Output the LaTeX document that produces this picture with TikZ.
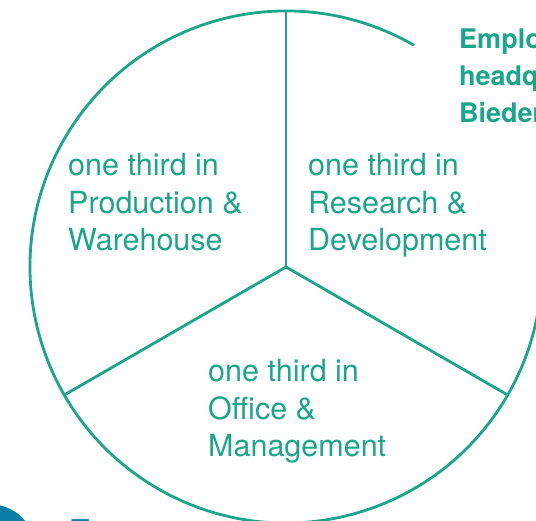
\documentclass[tikz,border=0pt]{standalone}
\usepackage{fontspec}
\setmainfont{TeX Gyre Heros}
\definecolor{leaf}{HTML}{1AA68A}
\definecolor{ocean}{HTML}{0A7EA6}
\begin{document}
\begin{tikzpicture}[x=1pt,y=1pt,
  wedge/.style={draw=leaf,line width=2.8pt},
  share/.style={anchor=base west,align=left,text=leaf,inner sep=0pt,
    font=\fontsize{30.5}{37.5}\selectfont},
  heading/.style={anchor=base west,align=left,text=leaf,inner sep=0pt,
    font=\bfseries\fontsize{27}{37}\selectfont}]
\useasboundingbox (0,0) rectangle (536,521);
\clip (0,0) rectangle (536,521);

% pie of three equal sectors
\coordinate (hub) at (286,254);
\path (hub) ++(60:256) coordinate (rimgap)
      (hub) ++(90:256) coordinate (rimN)
      (hub) ++(210:256) coordinate (rimSW)
      (hub) ++(330:256) coordinate (rimSE);
\draw[wedge] (rimgap) arc[start angle=60,end angle=365,radius=256];
\draw[wedge] (hub) -- (rimN);
\draw[wedge] (hub) -- (rimSW);
\draw[wedge] (hub) -- (rimSE);

% sector labels (anchored at the baseline of their last line)
\node[share] (prod) at (68,270) {one third in\\Production \&\\Warehouse};
\node[share] (rnd) at (308,270) {one third in\\Research \&\\Development};
\node[share] (office) at (208,64) {one third in\\Office \&\\Management};

% heading on the right
\node[heading] (head) at (459,398.5) {Employees\\headquarters\\Biedenkopf};

% bottom-left decoration
\fill[ocean] (-10,-29) circle[radius=45.7];
\node[anchor=north west,inner sep=0pt,text=ocean,font=\bfseries\fontsize{30}{36}\selectfont] (tee) at (71,2) {T};
\end{tikzpicture}
\end{document}
